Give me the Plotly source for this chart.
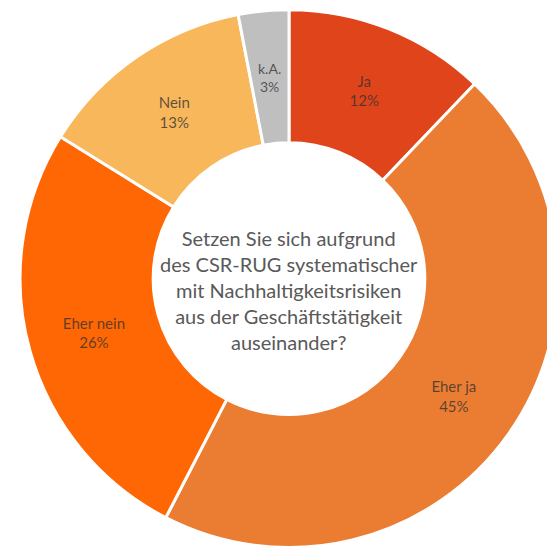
import math
import plotly.graph_objects as go

labels = ["Ja", "Eher ja", "Eher nein", "Nein", "k.A."]
values = [12, 45, 26, 13, 3]
colors = ["#E0441B", "#EB7D33", "#FE6703", "#F8B75A", "#BFBFBF"]
center_text = ("Setzen Sie sich aufgrund<br>des CSR-RUG systematischer<br>"
               "mit Nachhaltigkeitsrisiken<br>aus der Geschäftstätigkeit<br>auseinander?")

W, H = 555, 550
HOLE = 0.505
DOM_X = [0.0216, 0.991]
DOM_Y = [0.019, 0.997]
LABEL_FONT = dict(family="Lato", size=15, color="rgba(50,50,50,0.78)")

# thin slices (too narrow for plotly's inside fit) get an annotation at the ring middle
thin = [v / sum(values) < 0.05 for v in values]
templates = ["" if t else "%{label}<br>%{value}%" for t in thin]

fig = go.Figure(go.Pie(
    labels=labels,
    values=values,
    hole=HOLE,
    sort=False,
    direction="clockwise",
    rotation=0,
    marker=dict(colors=colors, line=dict(color="white", width=3)),
    texttemplate=templates,
    textposition="inside",
    insidetextorientation="horizontal",
    textfont=LABEL_FONT,
    domain=dict(x=DOM_X, y=DOM_Y),
    showlegend=False,
    hoverinfo="label+percent",
))

cx = (DOM_X[0] + DOM_X[1]) / 2
cy = (DOM_Y[0] + DOM_Y[1]) / 2
r_px = min((DOM_X[1] - DOM_X[0]) * W, (DOM_Y[1] - DOM_Y[0]) * H) / 2
r_mid = r_px * (1 + HOLE) / 2
total = sum(values)
cum = 0
for lab, v, t in zip(labels, values, thin):
    if t:
        ang = math.radians((cum + v / 2) / total * 360)
        fig.add_annotation(
            text=f"{lab}<br>{v}%", xref="paper", yref="paper",
            x=cx + r_mid * math.sin(ang) / W, y=cy + r_mid * math.cos(ang) / H,
            xanchor="center", yanchor="middle",
            showarrow=False, align="center",
            font=dict(family="Lato", size=14, color="rgba(50,50,50,0.78)"),
        )
    cum += v

fig.add_annotation(
    text=center_text, x=0.506, y=0.487, xref="paper", yref="paper",
    xanchor="center", yanchor="middle",
    showarrow=False, align="center",
    font=dict(family="Lato", size=20, color="#595959"),
)

fig.update_layout(
    width=W, height=H,
    margin=dict(l=0, r=0, t=0, b=0),
    paper_bgcolor="white",
    plot_bgcolor="white",
)

fig.write_html("out.html")
